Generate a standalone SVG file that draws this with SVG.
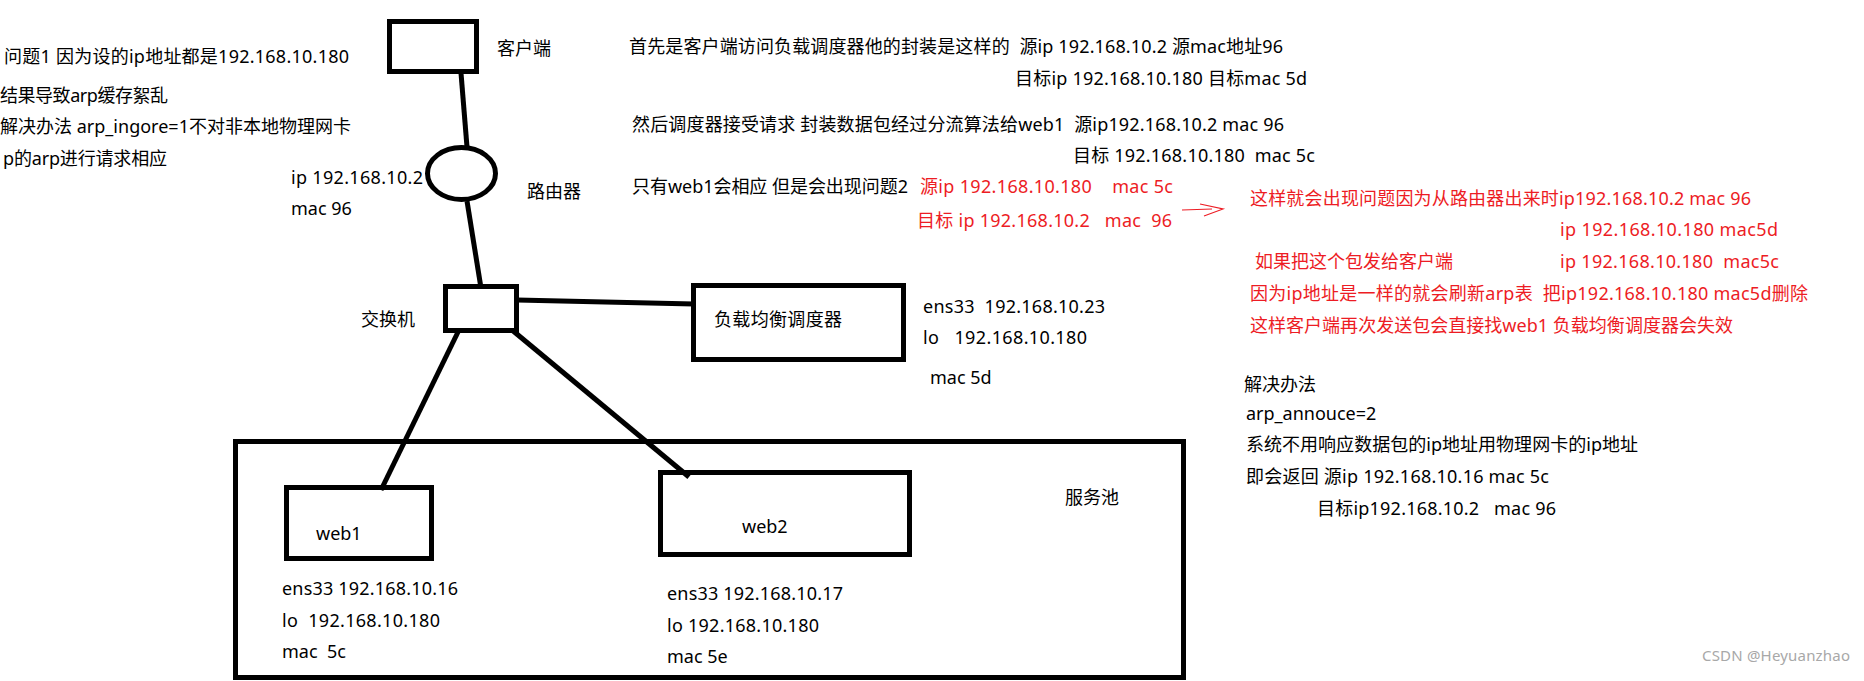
<svg xmlns="http://www.w3.org/2000/svg" width="1864" height="681" viewBox="0 0 1864 681" xml:space="preserve">
<style>
text { font-family: "Noto Sans", "Noto Sans CJK SC", sans-serif; font-size: 18px; fill: #000; white-space: pre; }
.r { fill: #ED1C24; }
.box { fill: none; stroke: #000; stroke-width: 5; }
.conn { fill: none; stroke: #000; stroke-width: 5; }
.arrow { fill: none; stroke: #ED1C24; stroke-width: 1.2; }
.wm { font-size: 15px; fill: #a8a8a8; }
</style>
<rect width="1864" height="681" fill="#fff"/>

<g id="connectors">
  <line class="conn" x1="461" y1="73" x2="467" y2="147"/>
  <line class="conn" x1="467" y1="201" x2="481" y2="288"/>
  <polyline class="conn" points="517,300 605,302 694,304"/>
  <line class="conn" x1="458" y1="332" x2="381" y2="490"/>
  <line class="conn" x1="512" y1="330" x2="689" y2="477"/>
</g>

<g id="client">
  <rect class="box" x="389.5" y="21.5" width="87" height="50"/>
  <text x="497" y="55">客户端</text>
</g>

<g id="router">
  <ellipse class="box" cx="461.5" cy="173.5" rx="34" ry="26"/>
  <text x="527" y="198">路由器</text>
  <text x="291" y="184" textLength="132">ip 192.168.10.2</text>
  <text x="291" y="215">mac 96</text>
</g>

<g id="switch">
  <rect class="box" x="445.5" y="286.5" width="71" height="44"/>
  <text x="361" y="326">交换机</text>
</g>

<g id="lb">
  <rect class="box" x="693.5" y="285.5" width="210" height="74"/>
  <text x="714" y="326" textLength="128">负载均衡调度器</text>
  <text x="923" y="313" textLength="182">ens33  192.168.10.23</text>
  <text x="923" y="344" textLength="164">lo   192.168.10.180</text>
  <text x="930" y="384">mac 5d</text>
</g>

<g id="pool">
  <rect class="box" x="235.5" y="441.5" width="948" height="236"/>
  <text x="1065" y="504">服务池</text>
</g>

<g id="web1">
  <rect class="box" x="286.5" y="487.5" width="145" height="71"/>
  <text x="316" y="540">web1</text>
  <text x="282" y="595" textLength="176">ens33 192.168.10.16</text>
  <text x="282" y="627" textLength="158">lo  192.168.10.180</text>
  <text x="282" y="658">mac  5c</text>
</g>

<g id="web2">
  <rect class="box" x="660.5" y="472.5" width="249" height="82"/>
  <text x="742" y="533">web2</text>
  <text x="667" y="600" textLength="176">ens33 192.168.10.17</text>
  <text x="667" y="632" textLength="152">lo 192.168.10.180</text>
  <text x="667" y="663">mac 5e</text>
</g>

<g id="problem1">
  <text x="4" y="63" textLength="345">问题1 因为设的ip地址都是192.168.10.180</text>
  <text x="0" y="102" textLength="168">结果导致arp缓存絮乱</text>
  <text x="0" y="133" textLength="351">解决办法 arp_ingore=1不对非本地物理网卡</text>
  <text x="3" y="165" textLength="164">p的arp进行请求相应</text>
</g>

<g id="flow">
  <text x="629" y="53" textLength="654">首先是客户端访问负载调度器他的封装是这样的  源ip 192.168.10.2 源mac地址96</text>
  <text x="1015" y="85" textLength="292">目标ip 192.168.10.180 目标mac 5d</text>
  <text x="632" y="131" textLength="652">然后调度器接受请求 封装数据包经过分流算法给web1  源ip192.168.10.2 mac 96</text>
  <text x="1073" y="162" textLength="242">目标 192.168.10.180  mac 5c</text>
  <text x="632" y="193" textLength="276">只有web1会相应 但是会出现问题2</text>
  <text class="r" x="920" y="193" textLength="253">源ip 192.168.10.180    mac 5c</text>
  <text class="r" x="917" y="227" textLength="255">目标 ip 192.168.10.2   mac  96</text>
  <path class="arrow" d="M1182,210 L1212,209 M1200,204 L1223,209 L1204,216"/>
</g>

<g id="problem2">
  <text class="r" x="1250" y="205" textLength="501">这样就会出现问题因为从路由器出来时ip192.168.10.2 mac 96</text>
  <text class="r" x="1560" y="236" textLength="218">ip 192.168.10.180 mac5d</text>
  <text class="r" x="1255" y="268">如果把这个包发给客户端</text>
  <text class="r" x="1560" y="268" textLength="219">ip 192.168.10.180  mac5c</text>
  <text class="r" x="1250" y="300" textLength="558">因为ip地址是一样的就会刷新arp表  把ip192.168.10.180 mac5d删除</text>
  <text class="r" x="1250" y="332" textLength="483">这样客户端再次发送包会直接找web1 负载均衡调度器会失效</text>
</g>

<g id="solution">
  <text x="1244" y="391">解决办法</text>
  <text x="1246" y="420">arp_annouce=2</text>
  <text x="1246" y="451" textLength="392">系统不用响应数据包的ip地址用物理网卡的ip地址</text>
  <text x="1246" y="483" textLength="303">即会返回 源ip 192.168.10.16 mac 5c</text>
  <text x="1317" y="515" textLength="239">目标ip192.168.10.2   mac 96</text>
</g>

<text class="wm" x="1702" y="661" textLength="148">CSDN @Heyuanzhao</text>
</svg>
